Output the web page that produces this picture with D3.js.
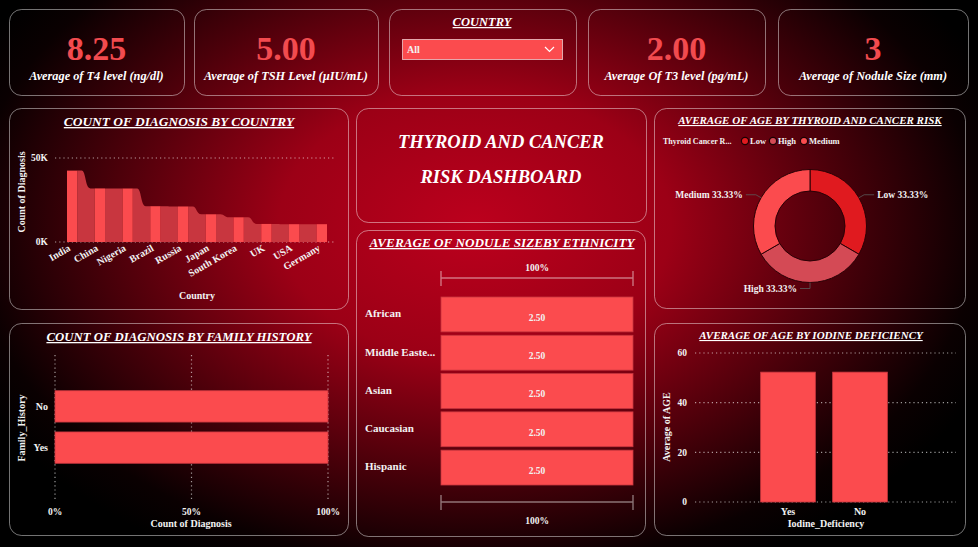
<!DOCTYPE html>
<html>
<head>
<meta http-equiv="Content-Type" content="text/html;charset=utf-8"/>
<style>
  body { margin: 0; background: #000; }
  svg { display: block; font-family: "Liberation Serif", "DejaVu Serif", serif; }
  .title { font-weight: bold; font-style: italic; fill: #fff; text-decoration: underline; }
  .lbl { font-weight: bold; fill: #f2f2f2; }
</style>
</head>
<body>
  <svg id="dash"></svg>
  <script src="https://d3js.org/d3.v7.min.js"></script>
  <script>
  // ---- data ----
  var kpiValues = ['8.25', '5.00', '2.00', '3'];
  var kpiLabels = ['Average of T4 level (ng/dl)', 'Average of TSH Level (µIU/mL)', 'Average Of T3 level (pg/mL)', 'Average of Nodule Size (mm)'];

  var countries = ['India', 'China', 'Nigeria', 'Brazil', 'Russia', 'Japan', 'South Korea', 'UK', 'USA', 'Germany'];
  var countryCounts = [42500, 31900, 31850, 21300, 21150, 16500, 14700, 10750, 10600, 10600];
  var countryTicks = [0, 50000];

  var riskLevels = ['Low', 'High', 'Medium'];
  var riskAvgAge = [51.9, 51.9, 51.9];

  var ethnicities = ['African', 'Middle Eastern', 'Asian', 'Caucasian', 'Hispanic'];
  var ethnicityNodule = [2.50, 2.50, 2.50, 2.50, 2.50];

  var familyHistory = ['No', 'Yes'];
  var familyShare = [1, 1];
  var familyTicks = [0, 0.5, 1];

  var iodineGroups = ['Yes', 'No'];
  var iodineAge = [52.3, 52.3];
  var ageTicks = [0, 20, 40, 60];

  var config = {
    width: 978,
    height: 547,
    barColor: '#fb4b4e',
    ribbonColor: '#c8363f',
    riskColors: ['#e01a1f', '#d44a55', '#fb4b4e'],
    panelStroke: 'rgba(255,255,255,0.45)',
    gridColor: 'rgba(255,255,255,0.6)'
  };

  var svg = d3.select('#dash')
    .attr('width', config.width)
    .attr('height', config.height);

  // background: dark red glow in the middle, black in the corners
  var defs = svg.append('defs');
  var bg = defs.append('radialGradient').attr('id', 'bg')
    .attr('gradientUnits', 'userSpaceOnUse')
    .attr('cx', 475).attr('cy', 225).attr('r', 560)
    .attr('gradientTransform', 'translate(475,225) scale(1,0.68) translate(-475,-225)');
  [[0, '#bc001d'], [0.35, '#9c0016'], [0.65, '#4c000a'], [0.9, '#0a0001'], [1, '#000']].forEach(function(s) {
    bg.append('stop').attr('offset', s[0]).attr('stop-color', s[1]);
  });
  svg.append('rect').attr('width', config.width).attr('height', config.height).attr('fill', 'url(#bg)');

  function panel(x, y, w, h) {
    svg.append('rect')
      .attr('x', x + 0.5).attr('y', y + 0.5)
      .attr('width', w).attr('height', h)
      .attr('rx', 12)
      .attr('fill', 'none')
      .attr('stroke', config.panelStroke);
  }

  function title(txt, x, y, size) {
    svg.append('text').attr('class', 'title')
      .attr('x', x).attr('y', y)
      .attr('text-anchor', 'middle')
      .attr('font-size', size || 13)
      .text(txt);
  }

  function dottedLine(x1, y1, x2, y2) {
    svg.append('line')
      .attr('x1', x1).attr('y1', y1).attr('x2', x2).attr('y2', y2)
      .attr('stroke', config.gridColor)
      .attr('stroke-width', 1.2)
      .attr('stroke-dasharray', '1.2,3');
  }

  // ---- KPI cards ----
  var kpiBoxes = [[9, 175], [194, 184], [588, 177], [778, 190]];
  kpiBoxes.forEach(function(b, i) {
    panel(b[0], 9, b[1], 86);
    var cx = b[0] + b[1] / 2;
    svg.append('text')
      .attr('x', cx).attr('y', 60)
      .attr('text-anchor', 'middle')
      .attr('font-size', 34).attr('font-weight', 'bold')
      .attr('fill', '#f24b4f')
      .text(kpiValues[i]);
    svg.append('text')
      .attr('x', cx).attr('y', 80)
      .attr('text-anchor', 'middle')
      .attr('font-size', 12.3).attr('font-weight', 'bold').attr('font-style', 'italic')
      .attr('fill', '#fff')
      .text(kpiLabels[i]);
  });

  // ---- country slicer ----
  panel(389, 9, 187, 86);
  title('COUNTRY', 482, 26, 12.5);
  svg.append('rect')
    .attr('x', 402.5).attr('y', 39.5).attr('width', 160).attr('height', 20)
    .attr('fill', config.barColor)
    .attr('stroke', 'rgba(255,255,255,0.6)');
  svg.append('text').attr('class', 'lbl')
    .attr('x', 407).attr('y', 53).attr('font-size', 10).text('All');
  svg.append('path')
    .attr('d', 'M545,47 L549.5,51.5 L554,47')
    .attr('fill', 'none').attr('stroke', '#fff').attr('stroke-width', 1.2);

  // ---- count of diagnosis by country (ribbon style) ----
  panel(9, 108, 339, 201);
  title('COUNT OF DIAGNOSIS BY COUNTRY', 179, 126, 13.4);

  var cx = d3.scaleBand().domain(countries).range([67, 327]).paddingInner(0.63).paddingOuter(0);
  var cy = d3.scaleLinear().domain([0, 50000]).range([242, 158]);

  countryTicks.forEach(function(t) {
    dottedLine(55, cy(t), 335, cy(t));
    svg.append('text').attr('class', 'lbl')
      .attr('x', 48).attr('y', cy(t)).attr('dy', '0.35em')
      .attr('text-anchor', 'end').attr('font-size', 9.5)
      .text(d3.format('.0f')(t / 1000) + 'K');
  });

  // ribbons between neighbouring columns
  for (var i = 0; i < countries.length - 1; i += 1) {
    var x0 = cx(countries[i]) + cx.bandwidth();
    var x1 = cx(countries[i + 1]);
    var w = x1 - x0;
    var y0 = cy(countryCounts[i]);
    var y1 = cy(countryCounts[i + 1]);
    var p = d3.path();
    p.moveTo(x0, cy(0));
    p.lineTo(x0, y0);
    p.lineTo(x0 + 0.25 * w, y0);
    p.bezierCurveTo(x0 + 0.5 * w, y0, x0 + 0.45 * w, y1, x0 + 0.75 * w, y1);
    p.lineTo(x1, y1);
    p.lineTo(x1, cy(0));
    p.closePath();
    svg.append('path').attr('d', p.toString()).attr('fill', config.ribbonColor);
  }

  svg.selectAll('.ccol')
    .data(countries)
    .enter().append('rect')
    .attr('class', 'ccol')
    .attr('x', function(d) { return cx(d); })
    .attr('y', function(d, i) { return cy(countryCounts[i]); })
    .attr('width', cx.bandwidth())
    .attr('height', function(d, i) { return cy(0) - cy(countryCounts[i]); })
    .attr('fill', config.barColor);

  svg.selectAll('.clab')
    .data(countries)
    .enter().append('text')
    .attr('class', 'lbl clab')
    .attr('font-size', 10)
    .attr('text-anchor', 'end')
    .attr('transform', function(d) {
      return 'translate(' + (cx(d) + cx.bandwidth() / 2 - 1) + ',250) rotate(-30)';
    })
    .text(function(d) { return d; });

  svg.append('text').attr('class', 'lbl')
    .attr('x', 197).attr('y', 299).attr('text-anchor', 'middle').attr('font-size', 10)
    .text('Country');
  svg.append('text').attr('class', 'lbl')
    .attr('transform', 'translate(25,192) rotate(-90)')
    .attr('text-anchor', 'middle').attr('font-size', 10)
    .text('Count of Diagnosis');

  // ---- dashboard title ----
  panel(356, 108, 290, 114);
  svg.append('text')
    .attr('x', 501).attr('y', 148).attr('text-anchor', 'middle')
    .attr('font-size', 18.5).attr('font-weight', 'bold').attr('font-style', 'italic').attr('fill', '#fff')
    .text('THYROID AND CANCER');
  svg.append('text')
    .attr('x', 501).attr('y', 183).attr('text-anchor', 'middle')
    .attr('font-size', 18.5).attr('font-weight', 'bold').attr('font-style', 'italic').attr('fill', '#fff')
    .text('RISK DASHBOARD');

  // ---- average of age by thyroid cancer risk (donut) ----
  panel(654, 108, 311, 200);
  title('AVERAGE OF AGE BY THYROID AND CANCER RISK', 810, 124, 11);

  svg.append('text').attr('class', 'lbl')
    .attr('x', 663).attr('y', 141).attr('dy', '0.35em').attr('font-size', 8)
    .text('Thyroid Cancer R...');
  var legendX = [745, 773, 804];
  riskLevels.forEach(function(r, i) {
    svg.append('circle')
      .attr('cx', legendX[i]).attr('cy', 141).attr('r', 3.6)
      .attr('fill', config.riskColors[i]).attr('stroke', '#1a0003').attr('stroke-width', 1.2);
    svg.append('text').attr('class', 'lbl')
      .attr('x', legendX[i] + 5).attr('y', 141).attr('dy', '0.35em').attr('font-size', 8.5)
      .text(r);
  });

  var donutC = [810, 226];
  var rOuter = 56.5, rInner = 35;
  var pie = d3.pie().sort(null)(riskAvgAge);
  var arc = d3.arc().innerRadius(rInner).outerRadius(rOuter);
  var donut = svg.append('g').attr('transform', 'translate(' + donutC[0] + ',' + donutC[1] + ')');
  donut.selectAll('path')
    .data(pie)
    .enter().append('path')
    .attr('d', arc)
    .attr('fill', function(d, i) { return config.riskColors[i]; })
    .attr('stroke', '#2a0005').attr('stroke-width', 1);

  var total = d3.sum(riskAvgAge);
  pie.forEach(function(d, i) {
    var a = (d.startAngle + d.endAngle) / 2;
    var right = Math.sin(a) > 0.01;
    var p1 = [rOuter * Math.sin(a), -rOuter * Math.cos(a)];
    var p2 = [(rOuter + 6) * Math.sin(a), -(rOuter + 6) * Math.cos(a)];
    var p3 = [p2[0] + (right ? 10 : -10), p2[1]];
    donut.append('polyline')
      .attr('points', [p1, p2, p3].map(function(q) { return q.join(','); }).join(' '))
      .attr('fill', 'none').attr('stroke', 'rgba(90,90,90,0.8)').attr('stroke-width', 1);
    donut.append('text').attr('class', 'lbl')
      .attr('x', p3[0] + (right ? 3 : -3)).attr('y', p3[1]).attr('dy', '0.35em')
      .attr('text-anchor', right ? 'start' : 'end').attr('font-size', 9.5)
      .text(riskLevels[i] + ' ' + d3.format('.2%')(d.data / total));
  });

  // ---- average of nodule size by ethnicity (100% bars) ----
  panel(356, 230, 289, 306);
  title('AVERAGE OF NODULE SIZEBY ETHNICITY', 502, 247, 13.2);

  var nx = d3.scaleLinear().domain([0, 1]).range([441, 633]);
  var ny = d3.scaleBand().domain(ethnicities).range([297, 485]).paddingInner(0.09).paddingOuter(0);

  [[278, 268], [502, 521]].forEach(function(b) {
    svg.append('path')
      .attr('d', 'M' + nx(0) + ',' + (b[0] - 7) + 'V' + (b[0] + 8) + 'M' + nx(0) + ',' + b[0] + 'H' + nx(1) + 'M' + nx(1) + ',' + (b[0] - 7) + 'V' + (b[0] + 8))
      .attr('fill', 'none').attr('stroke', 'rgba(255,255,255,0.45)').attr('stroke-width', 1.4);
    svg.append('text').attr('class', 'lbl')
      .attr('x', nx(0.5)).attr('y', b[1]).attr('dy', '0.35em')
      .attr('text-anchor', 'middle').attr('font-size', 9.5)
      .text('100%');
  });

  svg.selectAll('.nbar')
    .data(ethnicities)
    .enter().append('rect')
    .attr('class', 'nbar')
    .attr('x', nx(0)).attr('y', function(d) { return ny(d); })
    .attr('width', nx(1) - nx(0)).attr('height', ny.bandwidth())
    .attr('fill', config.barColor).attr('stroke', '#c8363f').attr('stroke-width', 0.8);

  svg.selectAll('.nval')
    .data(ethnicities)
    .enter().append('text')
    .attr('class', 'lbl nval')
    .attr('x', nx(0.5)).attr('y', function(d) { return ny(d) + ny.bandwidth() / 2 + 3; })
    .attr('dy', '0.35em').attr('text-anchor', 'middle').attr('font-size', 9.5)
    .text(function(d, i) { return d3.format('.2f')(ethnicityNodule[i]); });

  svg.selectAll('.nlab')
    .data(ethnicities)
    .enter().append('text')
    .attr('class', 'lbl nlab')
    .attr('x', 365).attr('y', function(d) { return ny(d) + ny.bandwidth() / 2 - 1; })
    .attr('dy', '0.35em').attr('font-size', 11)
    .text(function(d) { return d.length > 13 ? d.slice(0, 12) + '...' : d; });

  // ---- count of diagnosis by family history ----
  panel(9, 323, 339, 212);
  title('COUNT OF DIAGNOSIS BY FAMILY HISTORY', 179, 341, 12.8);

  var fx = d3.scaleLinear().domain([0, 1]).range([55, 328]);
  var fy = d3.scaleBand().domain(familyHistory).range([380, 474]).paddingInner(0.24).paddingOuter(0.26);

  familyTicks.forEach(function(t) {
    dottedLine(fx(t), 355, fx(t), 502);
    svg.append('text').attr('class', 'lbl')
      .attr('x', fx(t)).attr('y', 512).attr('dy', '0.35em')
      .attr('text-anchor', 'middle').attr('font-size', 9.5)
      .text(d3.format('.0%')(t));
  });

  svg.selectAll('.fbar')
    .data(familyHistory)
    .enter().append('rect')
    .attr('class', 'fbar')
    .attr('x', fx(0)).attr('y', function(d) { return fy(d); })
    .attr('width', function(d, i) { return fx(familyShare[i]) - fx(0); })
    .attr('height', fy.bandwidth())
    .attr('fill', config.barColor).attr('stroke', '#c8363f').attr('stroke-width', 0.8);

  svg.selectAll('.flab')
    .data(familyHistory)
    .enter().append('text')
    .attr('class', 'lbl flab')
    .attr('x', 48).attr('y', function(d) { return fy(d) + fy.bandwidth() / 2; })
    .attr('dy', '0.35em').attr('text-anchor', 'end').attr('font-size', 10)
    .text(function(d) { return d; });

  svg.append('text').attr('class', 'lbl')
    .attr('x', 191).attr('y', 523).attr('dy', '0.35em').attr('text-anchor', 'middle').attr('font-size', 10)
    .text('Count of Diagnosis');
  svg.append('text').attr('class', 'lbl')
    .attr('transform', 'translate(25,428) rotate(-90)')
    .attr('text-anchor', 'middle').attr('font-size', 10)
    .text('Family_History');

  // ---- average of age by iodine deficiency ----
  panel(654, 323, 311, 212);
  title('AVERAGE OF AGE BY IODINE DEFICIENCY', 811, 339, 11);

  var ix = d3.scaleBand().domain(iodineGroups).range([752, 896]).paddingInner(0.24).paddingOuter(0.12);
  var iy = d3.scaleLinear().domain([0, 60]).range([502, 353]);

  ageTicks.forEach(function(t) {
    dottedLine(695, iy(t), 956, iy(t));
    svg.append('text').attr('class', 'lbl')
      .attr('x', 687).attr('y', iy(t)).attr('dy', '0.35em')
      .attr('text-anchor', 'end').attr('font-size', 9.5)
      .text(t);
  });

  svg.selectAll('.ibar')
    .data(iodineGroups)
    .enter().append('rect')
    .attr('class', 'ibar')
    .attr('x', function(d) { return ix(d); })
    .attr('y', function(d, i) { return iy(iodineAge[i]); })
    .attr('width', ix.bandwidth())
    .attr('height', function(d, i) { return iy(0) - iy(iodineAge[i]); })
    .attr('fill', config.barColor).attr('stroke', '#c8363f').attr('stroke-width', 0.8);

  svg.selectAll('.ilab')
    .data(iodineGroups)
    .enter().append('text')
    .attr('class', 'lbl ilab')
    .attr('x', function(d) { return ix(d) + ix.bandwidth() / 2; }).attr('y', 511)
    .attr('dy', '0.35em').attr('text-anchor', 'middle').attr('font-size', 10)
    .text(function(d) { return d; });

  svg.append('text').attr('class', 'lbl')
    .attr('x', 826).attr('y', 523).attr('dy', '0.35em').attr('text-anchor', 'middle').attr('font-size', 10)
    .text('Iodine_Deficiency');
  svg.append('text').attr('class', 'lbl')
    .attr('transform', 'translate(670,427) rotate(-90)')
    .attr('text-anchor', 'middle').attr('font-size', 10)
    .text('Average of AGE');
  </script>
</body>
</html>
